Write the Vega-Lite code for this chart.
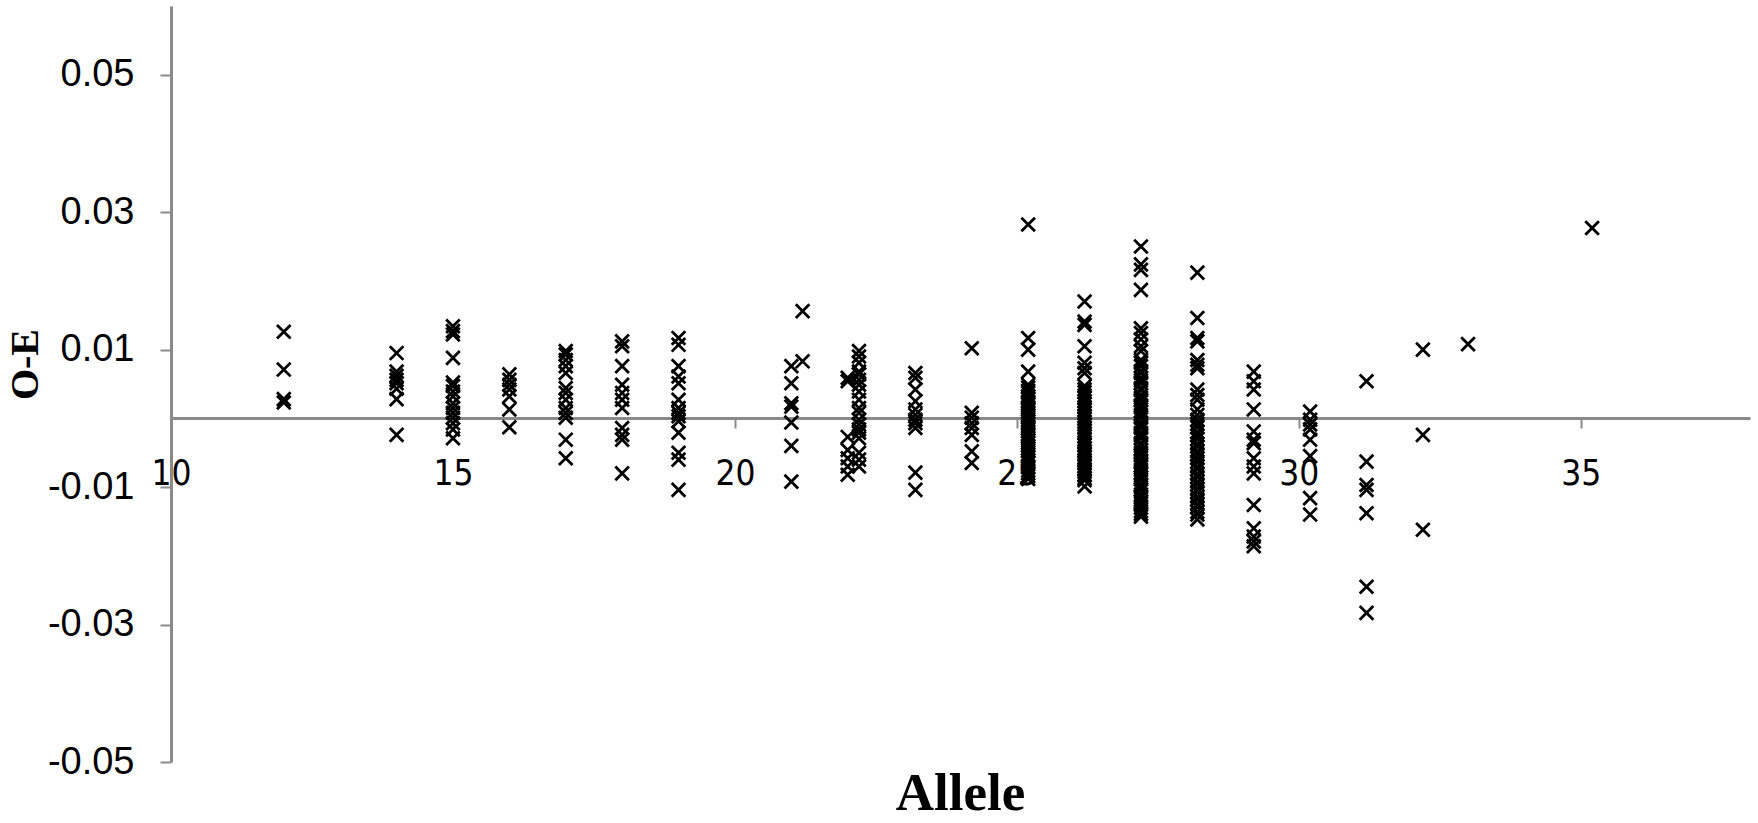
{
  "$schema": "https://vega.github.io/schema/vega-lite/v6.json",
  "autosize": {"type": "none"},
  "width": 1579,
  "height": 756,
  "padding": {"left": 171, "top": 6, "right": 8, "bottom": 61},
  "background": "white",
  "title": {"text": "Allele", "orient": "bottom", "anchor": "middle", "frame": "group", "font": "Liberation Serif", "fontSize": 53, "fontWeight": "bold", "color": "black", "offset": -13},
  "config": {"view": {"stroke": null}, "axis": {"grid": false}},
  "data": {"values": [
    {"allele": 12, "oe": 0.0126}, {"allele": 12, "oe": 0.0071}, {"allele": 12, "oe": 0.0028}, {"allele": 12, "oe": 0.0023},
    {"allele": 14, "oe": 0.0095}, {"allele": 14, "oe": 0.0068}, {"allele": 14, "oe": 0.0062}, {"allele": 14, "oe": 0.0056}, {"allele": 14, "oe": 0.0051}, {"allele": 14, "oe": 0.0043}, {"allele": 14, "oe": 0.0028}, {"allele": 14, "oe": -0.0024},
    {"allele": 15, "oe": 0.0134}, {"allele": 15, "oe": 0.0127}, {"allele": 15, "oe": 0.0122}, {"allele": 15, "oe": 0.0088}, {"allele": 15, "oe": 0.0052}, {"allele": 15, "oe": 0.0047}, {"allele": 15, "oe": 0.0039}, {"allele": 15, "oe": 0.0032}, {"allele": 15, "oe": 0.0022}, {"allele": 15, "oe": 0.0015}, {"allele": 15, "oe": 0.0008}, {"allele": 15, "oe": 0.0001}, {"allele": 15, "oe": -0.0007}, {"allele": 15, "oe": -0.0016}, {"allele": 15, "oe": -0.0029},
    {"allele": 16, "oe": 0.0064}, {"allele": 16, "oe": 0.0056}, {"allele": 16, "oe": 0.0049}, {"allele": 16, "oe": 0.0042}, {"allele": 16, "oe": 0.0032}, {"allele": 16, "oe": 0.0013}, {"allele": 16, "oe": -0.0013},
    {"allele": 17, "oe": 0.0098}, {"allele": 17, "oe": 0.0093}, {"allele": 17, "oe": 0.0085}, {"allele": 17, "oe": 0.0076}, {"allele": 17, "oe": 0.0066}, {"allele": 17, "oe": 0.0044}, {"allele": 17, "oe": 0.0037}, {"allele": 17, "oe": 0.0027}, {"allele": 17, "oe": 0.0015}, {"allele": 17, "oe": 0.0008}, {"allele": 17, "oe": 0.0001}, {"allele": 17, "oe": -0.0031}, {"allele": 17, "oe": -0.0058},
    {"allele": 18, "oe": 0.0112}, {"allele": 18, "oe": 0.0105}, {"allele": 18, "oe": 0.0076}, {"allele": 18, "oe": 0.0049}, {"allele": 18, "oe": 0.0037}, {"allele": 18, "oe": 0.0027}, {"allele": 18, "oe": 0.0015}, {"allele": 18, "oe": -0.0014}, {"allele": 18, "oe": -0.0024}, {"allele": 18, "oe": -0.0031}, {"allele": 18, "oe": -0.0080},
    {"allele": 19, "oe": 0.0117}, {"allele": 19, "oe": 0.0107}, {"allele": 19, "oe": 0.0076}, {"allele": 19, "oe": 0.0061}, {"allele": 19, "oe": 0.0051}, {"allele": 19, "oe": 0.0027}, {"allele": 19, "oe": 0.0015}, {"allele": 19, "oe": 0.0008}, {"allele": 19, "oe": 0.0003}, {"allele": 19, "oe": -0.0004}, {"allele": 19, "oe": -0.0021}, {"allele": 19, "oe": -0.0050}, {"allele": 19, "oe": -0.0060}, {"allele": 19, "oe": -0.0104},
    {"allele": 21, "oe": 0.0076}, {"allele": 21, "oe": 0.0051}, {"allele": 21, "oe": 0.0022}, {"allele": 21, "oe": 0.0017}, {"allele": 21, "oe": -0.0006}, {"allele": 21, "oe": -0.0040}, {"allele": 21, "oe": -0.0092},
    {"allele": 21.2, "oe": 0.0156}, {"allele": 21.2, "oe": 0.0083},
    {"allele": 22, "oe": 0.0059}, {"allele": 22, "oe": 0.0054}, {"allele": 22, "oe": -0.0027}, {"allele": 22, "oe": -0.0046}, {"allele": 22, "oe": -0.0058}, {"allele": 22, "oe": -0.0070}, {"allele": 22, "oe": -0.0082},
    {"allele": 22.2, "oe": 0.0098}, {"allele": 22.2, "oe": 0.0090}, {"allele": 22.2, "oe": 0.0081}, {"allele": 22.2, "oe": 0.0068}, {"allele": 22.2, "oe": 0.0064}, {"allele": 22.2, "oe": 0.0056}, {"allele": 22.2, "oe": 0.0049}, {"allele": 22.2, "oe": 0.0039}, {"allele": 22.2, "oe": 0.0027}, {"allele": 22.2, "oe": 0.0015}, {"allele": 22.2, "oe": 0.0008}, {"allele": 22.2, "oe": -0.0002}, {"allele": 22.2, "oe": -0.0009}, {"allele": 22.2, "oe": -0.0016}, {"allele": 22.2, "oe": -0.0021}, {"allele": 22.2, "oe": -0.0029}, {"allele": 22.2, "oe": -0.0050}, {"allele": 22.2, "oe": -0.0060}, {"allele": 22.2, "oe": -0.0070},
    {"allele": 23.2, "oe": 0.0066}, {"allele": 23.2, "oe": 0.0059}, {"allele": 23.2, "oe": 0.0042}, {"allele": 23.2, "oe": 0.0025}, {"allele": 23.2, "oe": 0.0013}, {"allele": 23.2, "oe": 0.0005}, {"allele": 23.2, "oe": -0.0002}, {"allele": 23.2, "oe": -0.0007}, {"allele": 23.2, "oe": -0.0014}, {"allele": 23.2, "oe": -0.0079}, {"allele": 23.2, "oe": -0.0104},
    {"allele": 24.2, "oe": 0.0102}, {"allele": 24.2, "oe": 0.0008}, {"allele": 24.2, "oe": 0.0001}, {"allele": 24.2, "oe": -0.0007}, {"allele": 24.2, "oe": -0.0014}, {"allele": 24.2, "oe": -0.0024}, {"allele": 24.2, "oe": -0.0048}, {"allele": 24.2, "oe": -0.0065},
    {"allele": 25.2, "oe": 0.0282}, {"allele": 25.2, "oe": 0.0117}, {"allele": 25.2, "oe": 0.0100}, {"allele": 25.2, "oe": 0.0068}, {"allele": 25.2, "oe": 0.0049}, {"allele": 25.2, "oe": 0.0045}, {"allele": 25.2, "oe": 0.0040}, {"allele": 25.2, "oe": 0.0037}, {"allele": 25.2, "oe": 0.0032}, {"allele": 25.2, "oe": 0.0029}, {"allele": 25.2, "oe": 0.0024}, {"allele": 25.2, "oe": 0.0021}, {"allele": 25.2, "oe": 0.0016}, {"allele": 25.2, "oe": 0.0013}, {"allele": 25.2, "oe": 0.0009}, {"allele": 25.2, "oe": 0.0004}, {"allele": 25.2, "oe": 0.0001}, {"allele": 25.2, "oe": -0.0004}, {"allele": 25.2, "oe": -0.0007}, {"allele": 25.2, "oe": -0.0012}, {"allele": 25.2, "oe": -0.0015}, {"allele": 25.2, "oe": -0.0019}, {"allele": 25.2, "oe": -0.0024}, {"allele": 25.2, "oe": -0.0027}, {"allele": 25.2, "oe": -0.0032}, {"allele": 25.2, "oe": -0.0035}, {"allele": 25.2, "oe": -0.0040}, {"allele": 25.2, "oe": -0.0044}, {"allele": 25.2, "oe": -0.0047}, {"allele": 25.2, "oe": -0.0053}, {"allele": 25.2, "oe": -0.0056}, {"allele": 25.2, "oe": -0.0061}, {"allele": 25.2, "oe": -0.0065}, {"allele": 25.2, "oe": -0.0071}, {"allele": 25.2, "oe": -0.0076}, {"allele": 25.2, "oe": -0.0080}, {"allele": 25.2, "oe": -0.0084}, {"allele": 25.2, "oe": -0.0088},
    {"allele": 26.2, "oe": 0.0170}, {"allele": 26.2, "oe": 0.0141}, {"allele": 26.2, "oe": 0.0136}, {"allele": 26.2, "oe": 0.0105}, {"allele": 26.2, "oe": 0.0081}, {"allele": 26.2, "oe": 0.0073}, {"allele": 26.2, "oe": 0.0066}, {"allele": 26.2, "oe": 0.0047}, {"allele": 26.2, "oe": 0.0042}, {"allele": 26.2, "oe": 0.0038}, {"allele": 26.2, "oe": 0.0033}, {"allele": 26.2, "oe": 0.0030}, {"allele": 26.2, "oe": 0.0025}, {"allele": 26.2, "oe": 0.0021}, {"allele": 26.2, "oe": 0.0016}, {"allele": 26.2, "oe": 0.0012}, {"allele": 26.2, "oe": 0.0008}, {"allele": 26.2, "oe": 0.0003}, {"allele": 26.2, "oe": 0.0000}, {"allele": 26.2, "oe": -0.0005}, {"allele": 26.2, "oe": -0.0009}, {"allele": 26.2, "oe": -0.0013}, {"allele": 26.2, "oe": -0.0018}, {"allele": 26.2, "oe": -0.0022}, {"allele": 26.2, "oe": -0.0026}, {"allele": 26.2, "oe": -0.0031}, {"allele": 26.2, "oe": -0.0035}, {"allele": 26.2, "oe": -0.0038}, {"allele": 26.2, "oe": -0.0044}, {"allele": 26.2, "oe": -0.0048}, {"allele": 26.2, "oe": -0.0051}, {"allele": 26.2, "oe": -0.0057}, {"allele": 26.2, "oe": -0.0061}, {"allele": 26.2, "oe": -0.0064}, {"allele": 26.2, "oe": -0.0070}, {"allele": 26.2, "oe": -0.0075}, {"allele": 26.2, "oe": -0.0078}, {"allele": 26.2, "oe": -0.0083}, {"allele": 26.2, "oe": -0.0087}, {"allele": 26.2, "oe": -0.0090}, {"allele": 26.2, "oe": -0.0099},
    {"allele": 27.2, "oe": 0.0250}, {"allele": 27.2, "oe": 0.0224}, {"allele": 27.2, "oe": 0.0216}, {"allele": 27.2, "oe": 0.0187}, {"allele": 27.2, "oe": 0.0131}, {"allele": 27.2, "oe": 0.0124}, {"allele": 27.2, "oe": 0.0115}, {"allele": 27.2, "oe": 0.0105}, {"allele": 27.2, "oe": 0.0098}, {"allele": 27.2, "oe": 0.0085}, {"allele": 27.2, "oe": 0.0081}, {"allele": 27.2, "oe": 0.0076}, {"allele": 27.2, "oe": 0.0069}, {"allele": 27.2, "oe": 0.0066}, {"allele": 27.2, "oe": 0.0059}, {"allele": 27.2, "oe": 0.0055}, {"allele": 27.2, "oe": 0.0051}, {"allele": 27.2, "oe": 0.0044}, {"allele": 27.2, "oe": 0.0041}, {"allele": 27.2, "oe": 0.0034}, {"allele": 27.2, "oe": 0.0030}, {"allele": 27.2, "oe": 0.0026}, {"allele": 27.2, "oe": 0.0019}, {"allele": 27.2, "oe": 0.0016}, {"allele": 27.2, "oe": 0.0010}, {"allele": 27.2, "oe": 0.0005}, {"allele": 27.2, "oe": 0.0001}, {"allele": 27.2, "oe": -0.0006}, {"allele": 27.2, "oe": -0.0010}, {"allele": 27.2, "oe": -0.0014}, {"allele": 27.2, "oe": -0.0021}, {"allele": 27.2, "oe": -0.0025}, {"allele": 27.2, "oe": -0.0029}, {"allele": 27.2, "oe": -0.0036}, {"allele": 27.2, "oe": -0.0040}, {"allele": 27.2, "oe": -0.0046}, {"allele": 27.2, "oe": -0.0050}, {"allele": 27.2, "oe": -0.0054}, {"allele": 27.2, "oe": -0.0061}, {"allele": 27.2, "oe": -0.0065}, {"allele": 27.2, "oe": -0.0069}, {"allele": 27.2, "oe": -0.0075}, {"allele": 27.2, "oe": -0.0080}, {"allele": 27.2, "oe": -0.0086}, {"allele": 27.2, "oe": -0.0089}, {"allele": 27.2, "oe": -0.0096}, {"allele": 27.2, "oe": -0.0100}, {"allele": 27.2, "oe": -0.0104}, {"allele": 27.2, "oe": -0.0111}, {"allele": 27.2, "oe": -0.0115}, {"allele": 27.2, "oe": -0.0121}, {"allele": 27.2, "oe": -0.0124}, {"allele": 27.2, "oe": -0.0130}, {"allele": 27.2, "oe": -0.0135}, {"allele": 27.2, "oe": -0.0139}, {"allele": 27.2, "oe": -0.0143},
    {"allele": 28.2, "oe": 0.0212}, {"allele": 28.2, "oe": 0.0146}, {"allele": 28.2, "oe": 0.0117}, {"allele": 28.2, "oe": 0.0112}, {"allele": 28.2, "oe": 0.0085}, {"allele": 28.2, "oe": 0.0078}, {"allele": 28.2, "oe": 0.0073}, {"allele": 28.2, "oe": 0.0042}, {"allele": 28.2, "oe": 0.0034}, {"allele": 28.2, "oe": 0.0027}, {"allele": 28.2, "oe": 0.0013}, {"allele": 28.2, "oe": 0.0005}, {"allele": 28.2, "oe": -0.0002}, {"allele": 28.2, "oe": -0.0008}, {"allele": 28.2, "oe": -0.0013}, {"allele": 28.2, "oe": -0.0020}, {"allele": 28.2, "oe": -0.0025}, {"allele": 28.2, "oe": -0.0030}, {"allele": 28.2, "oe": -0.0037}, {"allele": 28.2, "oe": -0.0041}, {"allele": 28.2, "oe": -0.0048}, {"allele": 28.2, "oe": -0.0052}, {"allele": 28.2, "oe": -0.0058}, {"allele": 28.2, "oe": -0.0063}, {"allele": 28.2, "oe": -0.0070}, {"allele": 28.2, "oe": -0.0074}, {"allele": 28.2, "oe": -0.0081}, {"allele": 28.2, "oe": -0.0085}, {"allele": 28.2, "oe": -0.0092}, {"allele": 28.2, "oe": -0.0096}, {"allele": 28.2, "oe": -0.0103}, {"allele": 28.2, "oe": -0.0107}, {"allele": 28.2, "oe": -0.0114}, {"allele": 28.2, "oe": -0.0118}, {"allele": 28.2, "oe": -0.0125}, {"allele": 28.2, "oe": -0.0129}, {"allele": 28.2, "oe": -0.0136}, {"allele": 28.2, "oe": -0.0140}, {"allele": 28.2, "oe": -0.0147},
    {"allele": 29.2, "oe": 0.0068}, {"allele": 29.2, "oe": 0.0054}, {"allele": 29.2, "oe": 0.0042}, {"allele": 29.2, "oe": 0.0013}, {"allele": 29.2, "oe": -0.0019}, {"allele": 29.2, "oe": -0.0031}, {"allele": 29.2, "oe": -0.0036}, {"allele": 29.2, "oe": -0.0058}, {"allele": 29.2, "oe": -0.0070}, {"allele": 29.2, "oe": -0.0080}, {"allele": 29.2, "oe": -0.0126}, {"allele": 29.2, "oe": -0.0160}, {"allele": 29.2, "oe": -0.0172}, {"allele": 29.2, "oe": -0.0179}, {"allele": 29.2, "oe": -0.0186},
    {"allele": 30.2, "oe": 0.0010}, {"allele": 30.2, "oe": -0.0002}, {"allele": 30.2, "oe": -0.0009}, {"allele": 30.2, "oe": -0.0016}, {"allele": 30.2, "oe": -0.0031}, {"allele": 30.2, "oe": -0.0055}, {"allele": 30.2, "oe": -0.0116}, {"allele": 30.2, "oe": -0.0140},
    {"allele": 31.2, "oe": 0.0054}, {"allele": 31.2, "oe": -0.0063}, {"allele": 31.2, "oe": -0.0097}, {"allele": 31.2, "oe": -0.0104}, {"allele": 31.2, "oe": -0.0138}, {"allele": 31.2, "oe": -0.0245}, {"allele": 31.2, "oe": -0.0283},
    {"allele": 32.2, "oe": 0.0100}, {"allele": 32.2, "oe": -0.0024}, {"allele": 32.2, "oe": -0.0162},
    {"allele": 33, "oe": 0.0108},
    {"allele": 35.2, "oe": 0.0277}
  ]},
  "mark": {"type": "point", "shape": "M-1,-1L1,1M-1,1L1,-1", "size": 185, "stroke": "black", "strokeWidth": 2.8, "filled": false, "opacity": 1},
  "encoding": {
    "x": {
      "field": "allele", "type": "quantitative",
      "scale": {"domain": [10, 38], "nice": false, "zero": false},
      "axis": {"values": [10, 15, 20, 25, 30, 35], "offset": -344, "domainColor": "#8a8a8a", "domainWidth": 3, "tickColor": "#8a8a8a", "tickWidth": 2, "tickSize": 10, "labelFont": "DejaVu Sans Condensed, Roboto, sans-serif", "labelFontSize": 35, "labelColor": "black", "labelPadding": 28, "labelFlush": false, "labelOverlap": false, "title": null}
    },
    "y": {
      "field": "oe", "type": "quantitative",
      "scale": {"domain": [-0.05, 0.06], "nice": false, "zero": false},
      "axis": {"values": [-0.05, -0.03, -0.01, 0.01, 0.03, 0.05], "labelExpr": "(datum.value < 0 ? '-' : '') + format(abs(datum.value), '.2f')", "domainColor": "#8a8a8a", "domainWidth": 3, "tickColor": "#8a8a8a", "tickWidth": 2, "tickSize": 11, "labelFont": "Liberation Sans", "labelFontSize": 38, "labelColor": "black", "labelPadding": 26, "labelFlush": false, "labelOverlap": false, "title": "O-E", "titleFont": "Liberation Serif", "titleFontSize": 40, "titleFontWeight": "bold", "titleColor": "black", "titlePadding": 2, "titleY": 358}
    }
  }
}
